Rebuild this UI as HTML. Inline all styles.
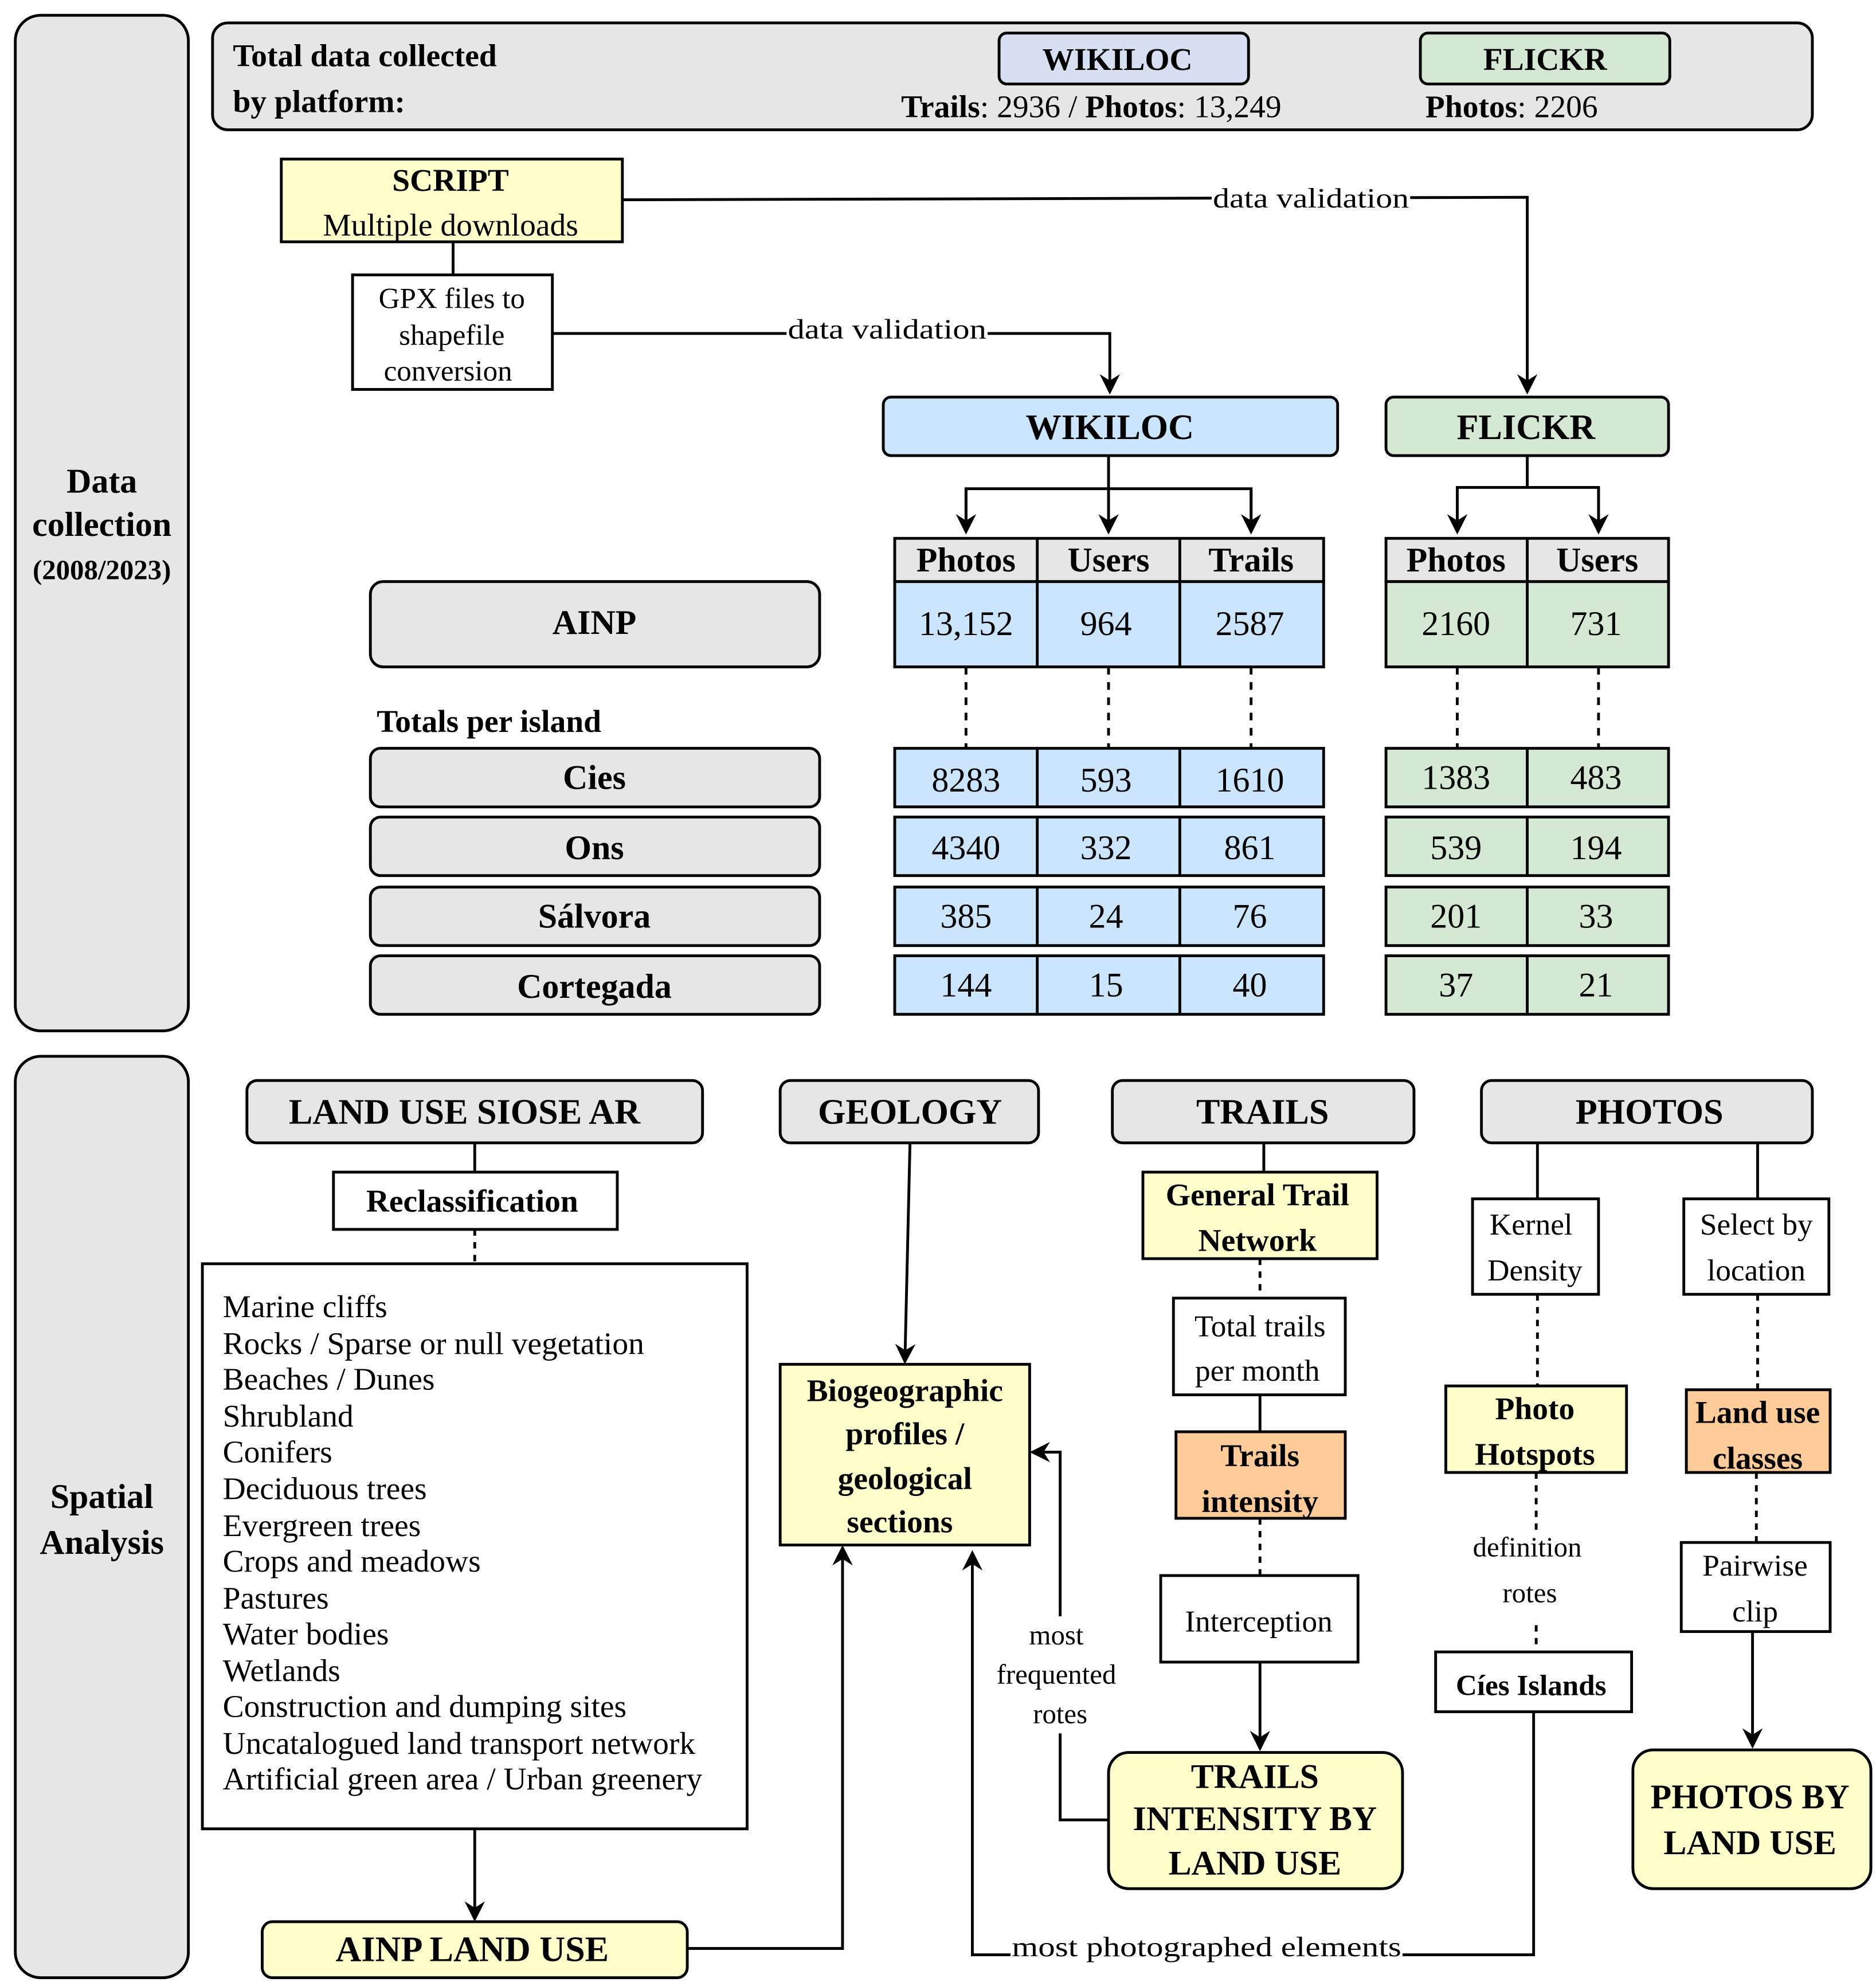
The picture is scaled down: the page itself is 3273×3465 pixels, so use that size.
<!DOCTYPE html>
<html><head><meta charset="utf-8"><style>
html,body{margin:0;padding:0;background:#fff}
svg{display:block}
text{font-family:"Liberation Serif",serif;fill:#000}
.b{font-weight:bold}
</style></head><body>
<svg xmlns="http://www.w3.org/2000/svg" width="3273" height="3465" viewBox="0 0 1474 1560.5">
<defs>
<marker id="m" markerWidth="16" markerHeight="16" refX="14" refY="8" orient="auto" markerUnits="userSpaceOnUse" viewBox="0 0 16 16"><path d="M0,0 L16,8 L0,16 L5,8 z" fill="#000"/></marker></defs>
<g stroke="#000" stroke-width="2.2" fill="none">
<rect x="12" y="12" width="136" height="798" rx="20" fill="#e6e6e6"/>
<rect x="12" y="830" width="136" height="724" rx="20" fill="#e6e6e6"/>
<rect x="167" y="18" width="1257" height="84" rx="12" fill="#e6e6e6"/>
<rect x="785" y="26" width="196" height="40" rx="6" fill="#d6e0f2"/>
<rect x="1116" y="26" width="196" height="40" rx="6" fill="#d5e8d4"/>
<rect x="221" y="125" width="268" height="65" fill="#ffffcc"/>
<line x1="356" y1="190" x2="356" y2="216"/>
<rect x="277" y="216" width="157" height="90" fill="#fff"/>
<polyline points="489,157 1200,155 1200,308" marker-end="url(#m)"/>
<polyline points="434,262 872,262 872,308" marker-end="url(#m)"/>
<rect x="694" y="312" width="357" height="46" rx="6" fill="#cce5ff"/>
<rect x="1089" y="312" width="222" height="46" rx="6" fill="#d5e8d4"/>
<line x1="871" y1="358" x2="871" y2="418" marker-end="url(#m)"/>
<polyline points="759,418 759,384 983,384 983,418" />
<line x1="759" y1="384" x2="759" y2="418" marker-end="url(#m)"/>
<line x1="983" y1="384" x2="983" y2="418" marker-end="url(#m)"/>
<line x1="1200" y1="358" x2="1200" y2="383"/>
<polyline points="1145,418 1145,383 1256,383 1256,418"/>
<line x1="1145" y1="383" x2="1145" y2="418" marker-end="url(#m)"/>
<line x1="1256" y1="383" x2="1256" y2="418" marker-end="url(#m)"/>
<rect x="703" y="423" width="337" height="34" fill="#e6e6e6"/>
<rect x="703" y="457" width="337" height="67" fill="#cce5ff"/>
<line x1="815" y1="423" x2="815" y2="524"/><line x1="927" y1="423" x2="927" y2="524"/>
<rect x="1089" y="423" width="222" height="34" fill="#e6e6e6"/>
<rect x="1089" y="457" width="222" height="67" fill="#d5e8d4"/>
<line x1="1200" y1="423" x2="1200" y2="524"/>
<rect x="291" y="457" width="353" height="67" rx="10" fill="#e6e6e6"/>
<g stroke-dasharray="6,6">
<line x1="759" y1="524" x2="759" y2="588"/><line x1="871" y1="524" x2="871" y2="588"/><line x1="983" y1="524" x2="983" y2="588"/>
<line x1="1145" y1="524" x2="1145" y2="588"/><line x1="1256" y1="524" x2="1256" y2="588"/>
</g>
<g>
<rect x="291" y="588" width="353" height="46" rx="8" fill="#e6e6e6"/>
<rect x="291" y="642" width="353" height="46" rx="8" fill="#e6e6e6"/>
<rect x="291" y="697" width="353" height="46" rx="8" fill="#e6e6e6"/>
<rect x="291" y="751" width="353" height="46" rx="8" fill="#e6e6e6"/>
<rect x="703" y="588" width="337" height="46" fill="#cce5ff"/>
<rect x="703" y="642" width="337" height="46" fill="#cce5ff"/>
<rect x="703" y="697" width="337" height="46" fill="#cce5ff"/>
<rect x="703" y="751" width="337" height="46" fill="#cce5ff"/>
<rect x="1089" y="588" width="222" height="46" fill="#d5e8d4"/>
<rect x="1089" y="642" width="222" height="46" fill="#d5e8d4"/>
<rect x="1089" y="697" width="222" height="46" fill="#d5e8d4"/>
<rect x="1089" y="751" width="222" height="46" fill="#d5e8d4"/>
<path d="M815,588V634M927,588V634M815,642V688M927,642V688M815,697V743M927,697V743M815,751V797M927,751V797M1200,588V634M1200,642V688M1200,697V743M1200,751V797"/>
</g>
<rect x="194" y="849" width="358" height="49" rx="8" fill="#e6e6e6"/>
<rect x="613" y="849" width="203" height="49" rx="8" fill="#e6e6e6"/>
<rect x="874" y="849" width="237" height="49" rx="8" fill="#e6e6e6"/>
<rect x="1164" y="849" width="260" height="49" rx="8" fill="#e6e6e6"/>
<line x1="373" y1="898" x2="373" y2="921"/>
<rect x="262" y="921" width="223" height="45" fill="#fff"/>
<line x1="373" y1="966" x2="373" y2="993" stroke-dasharray="5,5"/>
<rect x="159" y="993" width="428" height="444" fill="#fff"/>
<line x1="373" y1="1437" x2="373" y2="1508" marker-end="url(#m)"/>
<rect x="206" y="1510" width="334" height="44" rx="8" fill="#ffffcc"/>
<polyline points="540,1531 662,1531 662,1216" marker-end="url(#m)"/>
<line x1="715" y1="898" x2="711" y2="1070" marker-end="url(#m)"/>
<rect x="613" y="1072" width="196" height="142" fill="#ffffcc"/>
<line x1="993" y1="898" x2="993" y2="921"/>
<rect x="898" y="921" width="184" height="68" fill="#ffffcc"/>
<line x1="990" y1="989" x2="990" y2="1020" stroke-dasharray="5,5"/>
<rect x="922" y="1020" width="135" height="76" fill="#fff"/>
<line x1="990" y1="1096" x2="990" y2="1125"/>
<rect x="924" y="1125" width="133" height="68" fill="#ffcc99"/>
<line x1="990" y1="1193" x2="990" y2="1238" stroke-dasharray="5,5"/>
<rect x="912" y="1238" width="155" height="68" fill="#fff"/>
<line x1="990" y1="1306" x2="990" y2="1374" marker-end="url(#m)"/>
<rect x="871" y="1377" width="231" height="107" rx="16" fill="#ffffcc"/>
<polyline points="871,1430 833,1430 833,1141 811,1141" marker-end="url(#m)"/>
<line x1="1208" y1="898" x2="1208" y2="942"/><line x1="1381" y1="898" x2="1381" y2="942"/>
<rect x="1157" y="942" width="99" height="75" fill="#fff"/>
<rect x="1323" y="942" width="114" height="75" fill="#fff"/>
<g stroke-dasharray="5,5">
<line x1="1208" y1="1017" x2="1208" y2="1089"/><line x1="1381" y1="1017" x2="1381" y2="1092"/>
<line x1="1207" y1="1157" x2="1207" y2="1298"/><line x1="1380" y1="1157" x2="1380" y2="1212"/>
</g>
<rect x="1136" y="1089" width="142" height="68" fill="#ffffcc"/>
<rect x="1325" y="1092" width="113" height="65" fill="#ffcc99"/>
<rect x="1128" y="1298" width="154" height="47" fill="#fff"/>
<rect x="1321" y="1212" width="117" height="70" fill="#fff"/>
<line x1="1377" y1="1282" x2="1377" y2="1372" marker-end="url(#m)"/>
<rect x="1283" y="1375" width="187" height="109" rx="16" fill="#ffffcc"/>
<polyline points="1205,1345 1205,1536 764,1536 764,1220" marker-end="url(#m)"/>
</g>
<g fill="#fff">
<rect x="952" y="144" width="156" height="24"/>
<rect x="618" y="249" width="158" height="24"/>
<rect x="1145" y="1202" width="110" height="70"/>
<rect x="770" y="1270" width="120" height="92"/>
<rect x="794" y="1518" width="308" height="24"/>
</g>
<g font-size="26">
<text x="80" y="387" text-anchor="middle" class="b" font-size="27">Data</text>
<text x="80" y="421" text-anchor="middle" class="b" font-size="27">collection</text>
<text x="80" y="455" text-anchor="middle" class="b" font-size="22">(2008/2023)</text>
<text x="80" y="1185" text-anchor="middle" class="b" font-size="27">Spatial</text>
<text x="80" y="1221" text-anchor="middle" class="b" font-size="27">Analysis</text>
<text x="183" y="52" class="b" font-size="25">Total data collected</text>
<text x="183" y="88" class="b" font-size="25">by platform:</text>
<text x="878" y="55" text-anchor="middle" class="b" font-size="25">WIKILOC</text>
<text x="1214" y="55" text-anchor="middle" class="b" font-size="25">FLICKR</text>
<text x="708" y="92" font-size="25"><tspan class="b">Trails</tspan>: 2936 / <tspan class="b">Photos</tspan>: 13,249</text>
<text x="1120" y="92" font-size="25"><tspan class="b">Photos</tspan>: 2206</text>
<text x="354" y="150" text-anchor="middle" class="b" font-size="25">SCRIPT</text>
<text x="354" y="185" text-anchor="middle" font-size="25">Multiple downloads</text>
<text x="355" y="242" text-anchor="middle" font-size="23">GPX files to</text>
<text x="355" y="271" text-anchor="middle" font-size="23">shapefile</text>
<text x="352" y="299" text-anchor="middle" font-size="23">conversion</text>
<text x="953" y="163" font-size="22" textLength="154" lengthAdjust="spacingAndGlyphs">data validation</text>
<text x="619" y="266" font-size="22" textLength="156" lengthAdjust="spacingAndGlyphs">data validation</text>
<text x="872" y="345" text-anchor="middle" class="b" font-size="28">WIKILOC</text>
<text x="1199" y="345" text-anchor="middle" class="b" font-size="28">FLICKR</text>
<text x="759" y="449" text-anchor="middle" class="b" font-size="27">Photos</text>
<text x="871" y="449" text-anchor="middle" class="b" font-size="27">Users</text>
<text x="983" y="449" text-anchor="middle" class="b" font-size="27">Trails</text>
<text x="1144" y="449" text-anchor="middle" class="b" font-size="27">Photos</text>
<text x="1255" y="449" text-anchor="middle" class="b" font-size="27">Users</text>
<text x="467" y="498" text-anchor="middle" class="b" font-size="27">AINP</text>
<g font-size="27" text-anchor="middle">
<text x="759" y="499">13,152</text><text x="869" y="499">964</text><text x="982" y="499">2587</text>
<text x="1144" y="499">2160</text><text x="1254" y="499">731</text>
<text x="759" y="622">8283</text><text x="869" y="622">593</text><text x="982" y="622">1610</text>
<text x="1144" y="620">1383</text><text x="1254" y="620">483</text>
<text x="759" y="675">4340</text><text x="869" y="675">332</text><text x="982" y="675">861</text>
<text x="1144" y="675">539</text><text x="1254" y="675">194</text>
<text x="759" y="729">385</text><text x="869" y="729">24</text><text x="982" y="729">76</text>
<text x="1144" y="729">201</text><text x="1254" y="729">33</text>
<text x="759" y="783">144</text><text x="869" y="783">15</text><text x="982" y="783">40</text>
<text x="1144" y="783">37</text><text x="1254" y="783">21</text>
</g>
<g class="b" font-size="27" text-anchor="middle">
<text x="467" y="620">Cies</text><text x="467" y="675">Ons</text><text x="467" y="729">Sálvora</text><text x="467" y="784">Cortegada</text>
</g>
<text x="296" y="575" class="b" font-size="25">Totals per island</text>
<text x="365" y="883" text-anchor="middle" class="b" font-size="28">LAND USE SIOSE AR</text>
<text x="715" y="883" text-anchor="middle" class="b" font-size="28">GEOLOGY</text>
<text x="992" y="883" text-anchor="middle" class="b" font-size="28">TRAILS</text>
<text x="1296" y="883" text-anchor="middle" class="b" font-size="28">PHOTOS</text>
<text x="371" y="952" text-anchor="middle" class="b" font-size="25">Reclassification</text>
<g font-size="25">
<text x="175" y="1035">Marine cliffs</text>
<text x="175" y="1064">Rocks / Sparse or null vegetation</text>
<text x="175" y="1092">Beaches / Dunes</text>
<text x="175" y="1121">Shrubland</text>
<text x="175" y="1149">Conifers</text>
<text x="175" y="1178">Deciduous trees</text>
<text x="175" y="1207">Evergreen trees</text>
<text x="175" y="1235">Crops and meadows</text>
<text x="175" y="1264">Pastures</text>
<text x="175" y="1292">Water bodies</text>
<text x="175" y="1321">Wetlands</text>
<text x="175" y="1349">Construction and dumping sites</text>
<text x="175" y="1378">Uncatalogued land transport network</text>
<text x="175" y="1406">Artificial green area / Urban greenery</text>
</g>
<text x="371" y="1541" text-anchor="middle" class="b" font-size="28">AINP LAND USE</text>
<g class="b" font-size="25" text-anchor="middle">
<text x="711" y="1101">Biogeographic</text><text x="711" y="1135">profiles /</text><text x="711" y="1170">geological</text><text x="707" y="1204">sections</text>
<text x="988" y="947">General Trail</text><text x="988" y="983">Network</text>
<text x="990" y="1152">Trails</text><text x="990" y="1188">intensity</text>
<text x="986" y="1405" font-size="27">TRAILS</text><text x="986" y="1438" font-size="27">INTENSITY BY</text><text x="986" y="1473" font-size="27">LAND USE</text>
<text x="1206" y="1115">Photo</text><text x="1206" y="1151">Hotspots</text>
<text x="1381" y="1118">Land use</text><text x="1381" y="1154">classes</text>
<text x="1203" y="1332" font-size="23">Cíes Islands</text>
<text x="1375" y="1421" font-size="27">PHOTOS BY</text><text x="1375" y="1457" font-size="27">LAND USE</text>
</g>
<g font-size="24" text-anchor="middle">
<text x="990" y="1050">Total trails</text><text x="988" y="1085">per month</text>
<text x="989" y="1282">Interception</text>
<text x="1203" y="970">Kernel</text><text x="1206" y="1006">Density</text>
<text x="1380" y="970">Select by</text><text x="1380" y="1006">location</text>
<text x="1379" y="1238">Pairwise</text><text x="1379" y="1274">clip</text>
</g>
<g font-size="22" text-anchor="middle">
<text x="1200" y="1223">definition</text><text x="1202" y="1259">rotes</text>
<text x="830" y="1292">most</text><text x="830" y="1323">frequented</text><text x="833" y="1354">rotes</text>
</g>
<text x="795" y="1537" font-size="22" textLength="306" lengthAdjust="spacingAndGlyphs">most photographed elements</text>
</g>
</svg>
</body></html>
